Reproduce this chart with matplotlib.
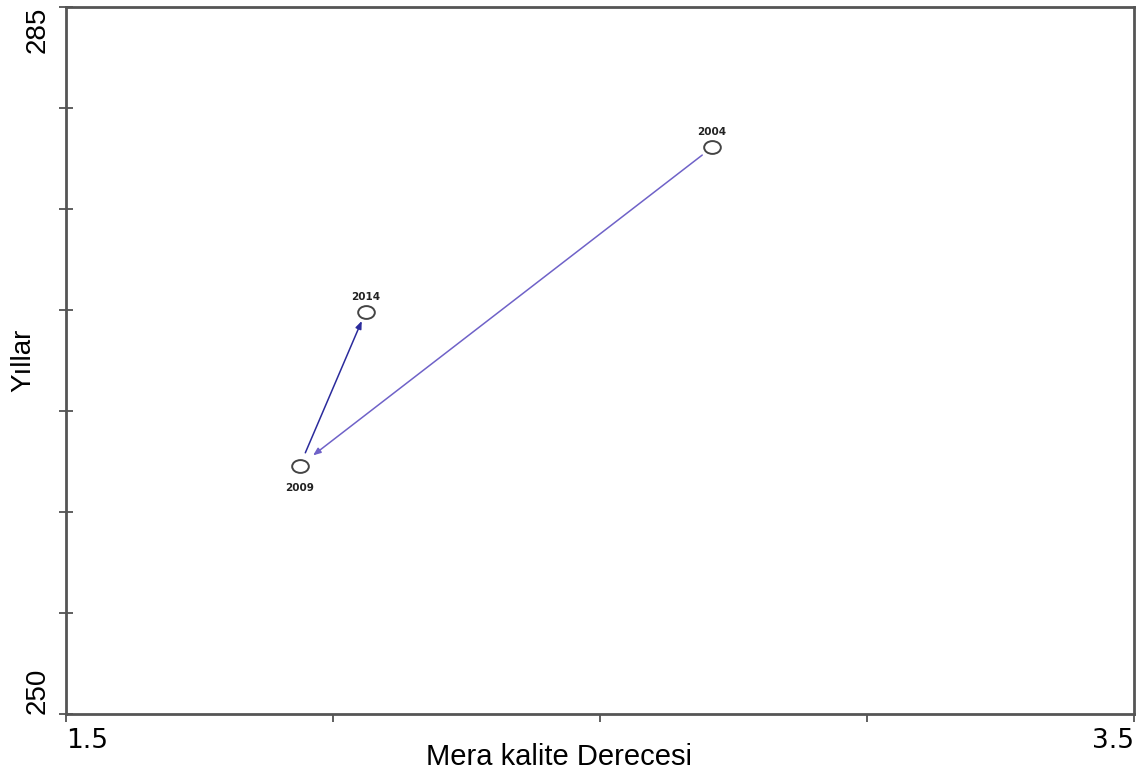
import matplotlib.pyplot as plt
from matplotlib.path import Path
from matplotlib.transforms import Affine2D

plt.rcParams['font.family'] = ['Liberation Sans', 'DejaVu Sans']

# pasture quality score per survey year
years = ["2004", "2009", "2014"]
quality = [2.71, 1.938, 2.061]
score = [278.05, 262.3, 269.9]

x_lim = (1.5, 3.5)
y_lim = (250, 285)

fig = plt.figure(figsize=(11.41, 7.72), dpi=100)
ax = fig.add_axes([0.0578, 0.0751, 0.9361, 0.9158])

# movement between consecutive years
arrow_cols = ["#6f62c8", "#2b2b9c"]
shrinks = [(9, 12), (10, 7)]
for i in range(len(years) - 1):
    ax.annotate("", xy=(quality[i + 1], score[i + 1]), xytext=(quality[i], score[i]),
                arrowprops=dict(arrowstyle="-|>,head_length=0.45,head_width=0.18",
                                color=arrow_cols[i], lw=1.1,
                                shrinkA=shrinks[i][0], shrinkB=shrinks[i][1]))

# slightly flattened open circles
ell = Path.unit_circle().transformed(Affine2D().scale(1.3, 1.0))
ax.plot(quality, score, linestyle="none", marker=ell, ms=12, mfc="white",
        mec="#444444", mew=1.4, zorder=3)

for x, y, lab in zip(quality, score, years):
    dy = -16 if lab == "2009" else 11
    ax.annotate(lab, (x, y), xytext=(0, dy), textcoords="offset points",
                ha="center", va="center", fontsize=7.5, fontweight="bold",
                color="#222222", family="DejaVu Sans")

ax.set_xlim(*x_lim)
ax.set_ylim(*y_lim)

ax.set_xticks([1.5, 2.0, 2.5, 3.0, 3.5])
ax.set_xticklabels(["1.5", "", "", "", "3.5"], fontsize=19, family="DejaVu Sans")
xl = ax.get_xticklabels()
xl[0].set_ha("left")
xl[-1].set_ha("right")

ax.set_yticks([250, 255, 260, 265, 270, 275, 280, 285])
ax.set_yticklabels(["250", "", "", "", "", "", "", "285"], fontsize=20, rotation=90)
yl = ax.get_yticklabels()
yl[0].set_va("bottom")
yl[-1].set_va("top")

ax.tick_params(axis="x", direction="out", length=6, width=1.2, color="#444444", pad=4)
ax.tick_params(axis="y", direction="inout", length=10, width=1.2, color="#444444", pad=6)

for s in ax.spines.values():
    s.set_color("#555555")
    s.set_linewidth(2)

ax.set_xlabel("Mera kalite Derecesi", fontsize=21, va="center")
ax.xaxis.set_label_coords(0.462, -0.061)
ax.set_ylabel("Yıllar", fontsize=20, va="center", ha="center")
ax.yaxis.set_label_coords(-0.040, 0.5)

fig.savefig("out.png", dpi=100)
